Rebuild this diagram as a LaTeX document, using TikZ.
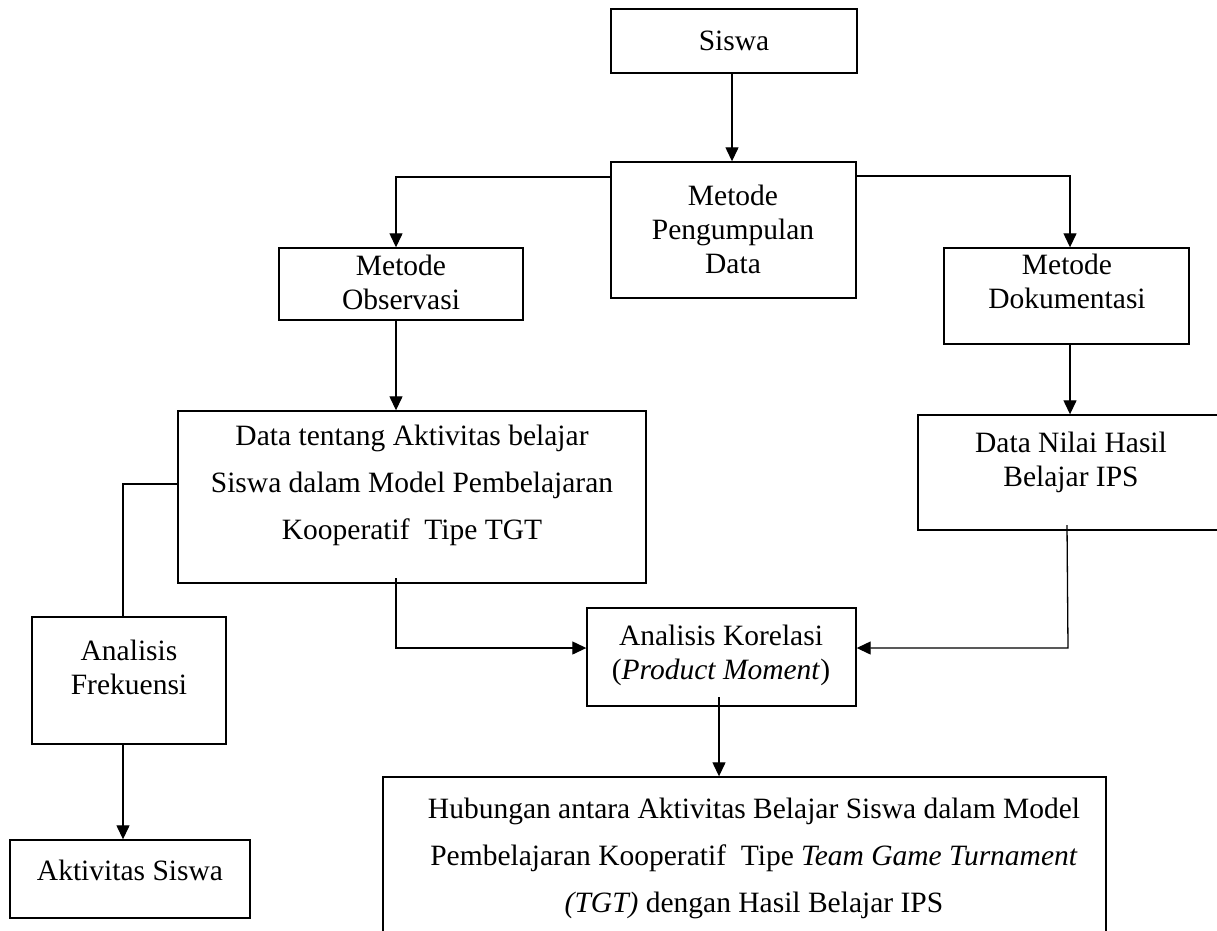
\documentclass[tikz,border=0pt]{standalone}
\usepackage{fontspec}
\setmainfont{Liberation Serif}
\usetikzlibrary{arrows.meta}
\begin{document}
\begin{tikzpicture}[x=1pt,y=-1pt,
  box/.style={draw=black, line width=1.4pt, inner sep=0pt, fill=none},
  txt/.style={inner sep=0pt, align=center, font=\fontsize{29.5}{34}\selectfont},
  txtd/.style={inner sep=0pt, align=center, font=\fontsize{29.5}{47}\selectfont},
  conn/.style={draw=black, line width=1.3pt},
  arr/.style={conn, -{Triangle[length=14pt,width=13pt]}}]
\useasboundingbox (0,0) rectangle (1217,930);
\clip (0,0) rectangle (1217,930);
\fill[white] (0,0) rectangle (1217,930);
% boxes
\node[box, minimum width=246pt, minimum height=64pt] (siswa) at (734,41) {};
\node[box, minimum width=245pt, minimum height=136pt] (mpd) at (733.5,230) {};
\node[box, minimum width=244pt, minimum height=72pt] (mo) at (401,284) {};
\node[box, minimum width=245pt, minimum height=96pt] (md) at (1066.5,296) {};
\node[box, minimum width=320pt, minimum height=115pt] (dn) at (1078,472.5) {};
\node[box, minimum width=468pt, minimum height=172pt] (dt) at (412,497) {};
\node[box, minimum width=194pt, minimum height=127pt] (af) at (129,680.5) {};
\node[box, minimum width=240pt, minimum height=78pt] (as) at (130,879) {};
\node[box, minimum width=269pt, minimum height=98pt] (ak) at (721.5,657) {};
\node[box, minimum width=723pt, minimum height=190pt] (hb) at (744.5,872) {};
% texts
\node[txt] (tsiswa) at (734,41) {Siswa};
\node[txt] (tmpd) at (733,229) {Metode\\Pengumpulan\\Data};
\node[txt] (tmo) at (401,282) {Metode\\Observasi};
\node[txt] (tmd) at (1067,281) {Metode\\Dokumentasi};
\node[txt] (tdn) at (1071,462) {Data Nilai Hasil\\Belajar IPS};
\node[txtd] (tdt) at (412,485) {Data tentang Aktivitas belajar\\Siswa dalam Model Pembelajaran\\Kooperatif\ \ Tipe TGT};
\node[txt] (taf) at (129,667) {Analisis\\Frekuensi};
\node[txt] (tas) at (130,870) {Aktivitas Siswa};
\node[txt] (tak) at (721,655) {Analisis Korelasi\\(\textit{Product Moment})};
\node[txtd] (thb) at (754,858) {Hubungan antara Aktivitas Belajar Siswa dalam Model\\Pembelajaran Kooperatif\ \ Tipe \textit{Team Game Turnament}\\\textit{(TGT)} dengan Hasil Belajar IPS};
% connectors
\draw[arr] (siswa.south -| 732,0) -- (mpd.north -| 732,0);
\draw[arr] (mpd.west |- 0,177) -| (mo.north -| 396,0);
\draw[arr] (mpd.east |- 0,176) -| (md.north -| 1070,0);
\draw[arr] (md.south -| 1070,0) -- (dn.north -| 1070,0);
\draw[arr] (mo.south -| 396,0) -- (dt.north -| 396,0);
\draw[conn] (dt.west |- 0,484) -| (af.north -| 123,0);
\draw[arr] (af.south -| 123,0) -- (as.north -| 123,0);
\coordinate (dtb) at (396,578);
\draw[arr] (dtb) |- (ak.west |- 0,648);
\coordinate (dnb) at (1067,525);
\draw[arr] (dnb) -- (1068,648) -- (ak.east |- 0,648);
\coordinate (akb) at (719,697);
\draw[arr] (akb) -- (hb.north -| 719,0);
\end{tikzpicture}
\end{document}
